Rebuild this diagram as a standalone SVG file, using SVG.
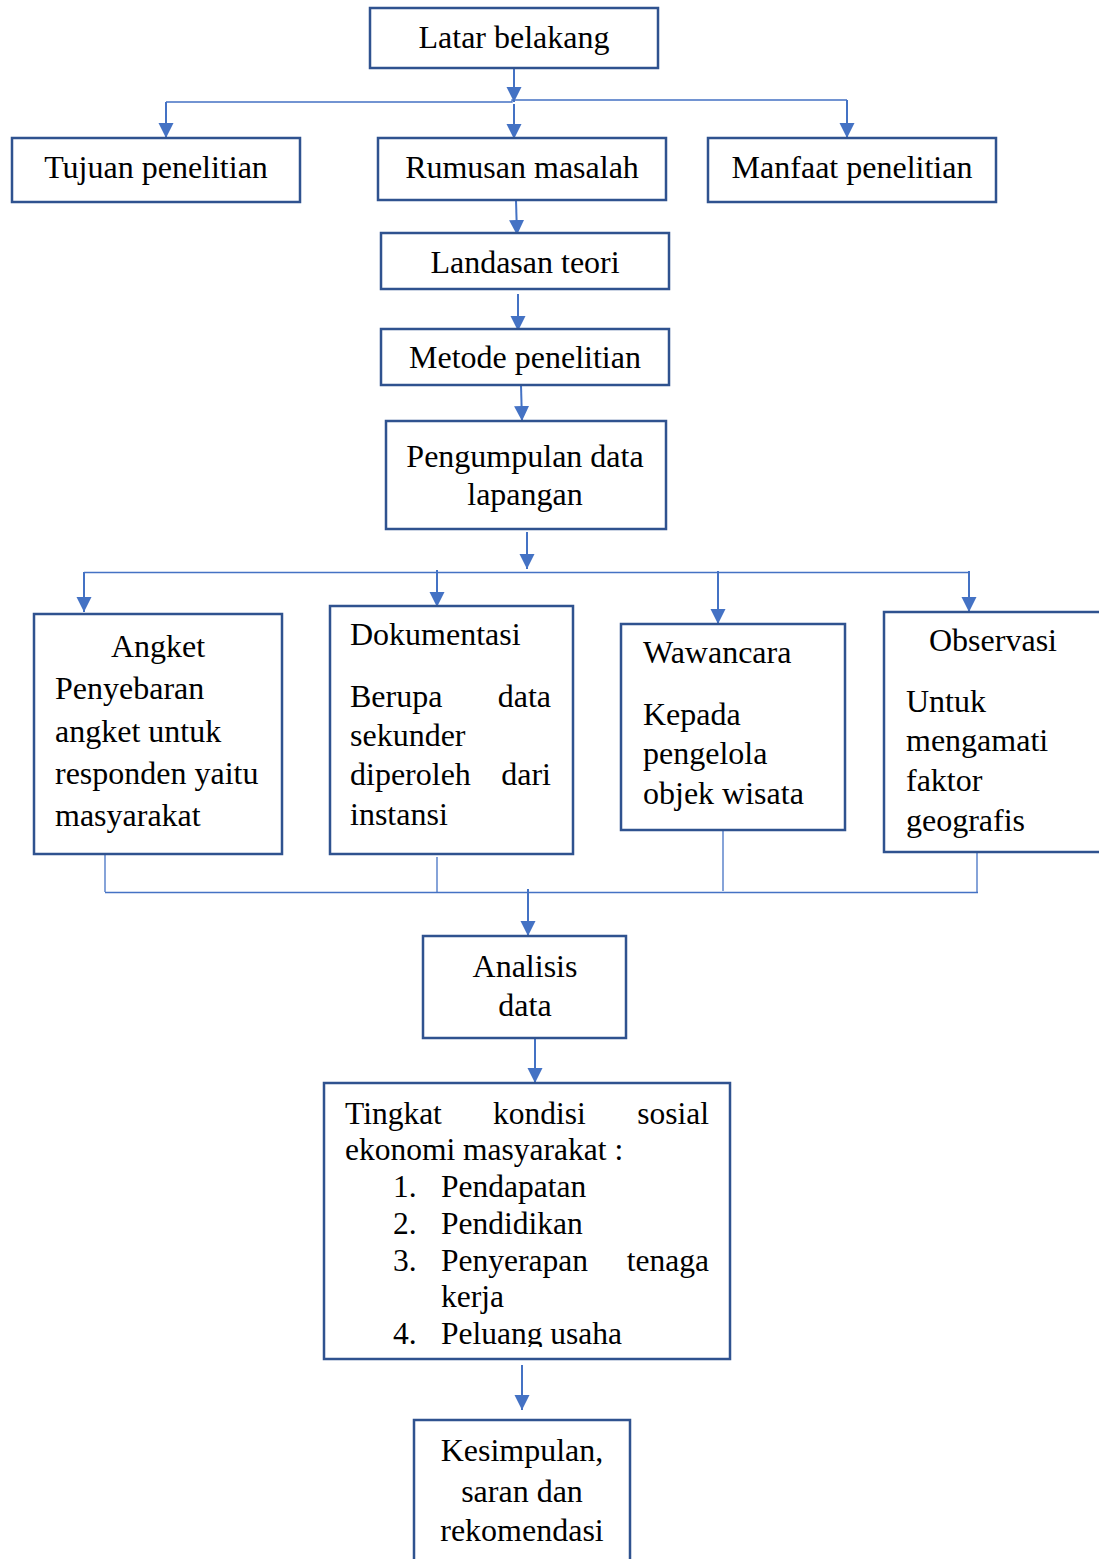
<svg xmlns="http://www.w3.org/2000/svg" width="1099" height="1559" viewBox="0 0 1099 1559">
<style>
.box{fill:#fff;stroke:#2F528F;stroke-width:2.5}
.t{font-family:"Liberation Serif","Times New Roman",serif;font-size:32px;fill:#000}
.s{font-size:31.5px}
.c{text-anchor:middle}
.e{text-anchor:end}
.ln{fill:none;stroke:#4472C4;stroke-width:2}
.thin{fill:none;stroke:#4472C4;stroke-width:1.3}
</style>
<defs>
<marker id="arr" markerUnits="userSpaceOnUse" markerWidth="16" markerHeight="16" refX="15" refY="7.5" orient="auto">
<path d="M0,0 L15,7.5 L0,15 Z" fill="#4472C4"/>
</marker>
<clipPath id="clipT"><rect x="324" y="1083" width="406" height="264"/></clipPath>
</defs>
<rect width="1099" height="1559" fill="#fff"/>

<g id="connectors">
<line class="ln" x1="514" y1="68" x2="514" y2="102" marker-end="url(#arr)"/>
<path class="thin" d="M166,102 H512 V100 H847"/>
<line class="ln" x1="166" y1="102" x2="166" y2="138" marker-end="url(#arr)"/>
<line class="ln" x1="514" y1="104" x2="514" y2="139" marker-end="url(#arr)"/>
<line class="ln" x1="847" y1="100" x2="847" y2="138" marker-end="url(#arr)"/>
<line class="ln" x1="516" y1="200" x2="517" y2="235" marker-end="url(#arr)"/>
<line class="ln" x1="518" y1="294" x2="518" y2="331" marker-end="url(#arr)"/>
<line class="ln" x1="521" y1="385" x2="522" y2="421" marker-end="url(#arr)"/>
<line class="ln" x1="527" y1="532" x2="527" y2="569" marker-end="url(#arr)"/>
<line class="thin" x1="84" y1="572.5" x2="969" y2="572.5"/>
<line class="ln" x1="84" y1="572" x2="84" y2="612" marker-end="url(#arr)"/>
<line class="ln" x1="437" y1="570" x2="437" y2="607" marker-end="url(#arr)"/>
<line class="ln" x1="718" y1="571" x2="718" y2="624" marker-end="url(#arr)"/>
<line class="ln" x1="969" y1="571" x2="969" y2="612" marker-end="url(#arr)"/>
<line class="thin" x1="105" y1="855" x2="105" y2="892"/>
<line class="thin" x1="437" y1="857" x2="437" y2="892"/>
<line class="thin" x1="723" y1="831" x2="723" y2="891"/>
<line class="thin" x1="977" y1="853" x2="977" y2="892"/>
<line class="thin" x1="105" y1="892.5" x2="978" y2="892.5"/>
<line class="ln" x1="528" y1="889" x2="528" y2="936" marker-end="url(#arr)"/>
<line class="ln" x1="535" y1="1039" x2="535" y2="1083" marker-end="url(#arr)"/>
<line class="ln" x1="522" y1="1365" x2="522" y2="1410" marker-end="url(#arr)"/>
</g>

<g id="latar">
<rect class="box" x="370" y="8" width="288" height="60"/>
<text class="t c" x="514" y="48">Latar belakang</text>
</g>
<g id="tujuan">
<rect class="box" x="12" y="138" width="288" height="64"/>
<text class="t c" x="156" y="178">Tujuan penelitian</text>
</g>
<g id="rumusan">
<rect class="box" x="378" y="138" width="288" height="62"/>
<text class="t c" x="522" y="178">Rumusan masalah</text>
</g>
<g id="manfaat">
<rect class="box" x="708" y="138" width="288" height="64"/>
<text class="t c" x="852" y="178">Manfaat penelitian</text>
</g>
<g id="landasan">
<rect class="box" x="381" y="233" width="288" height="56"/>
<text class="t c" x="525" y="273">Landasan teori</text>
</g>
<g id="metode">
<rect class="box" x="381" y="329" width="288" height="56"/>
<text class="t c" x="525" y="368">Metode penelitian</text>
</g>
<g id="pengumpulan">
<rect class="box" x="386" y="421" width="280" height="108"/>
<text class="t c" x="525" y="467">Pengumpulan data</text>
<text class="t c" x="525" y="505">lapangan</text>
</g>
<g id="angket">
<rect class="box" x="34" y="614" width="248" height="240"/>
<text class="t c" x="158" y="657">Angket</text>
<text class="t" x="55" y="699">Penyebaran</text>
<text class="t" x="55" y="742">angket untuk</text>
<text class="t" x="55" y="784">responden yaitu</text>
<text class="t" x="55" y="826">masyarakat</text>
</g>
<g id="dokumentasi">
<rect class="box" x="330" y="606" width="243" height="248"/>
<text class="t" x="350" y="645">Dokumentasi</text>
<text class="t" x="350" y="707">Berupa</text>
<text class="t e" x="551" y="707">data</text>
<text class="t" x="350" y="746">sekunder</text>
<text class="t" x="350" y="785">diperoleh</text>
<text class="t e" x="551" y="785">dari</text>
<text class="t" x="350" y="825">instansi</text>
</g>
<g id="wawancara">
<rect class="box" x="621" y="624" width="224" height="206"/>
<text class="t" x="643" y="663">Wawancara</text>
<text class="t" x="643" y="725">Kepada</text>
<text class="t" x="643" y="764">pengelola</text>
<text class="t" x="643" y="804">objek wisata</text>
</g>
<g id="observasi">
<rect class="box" x="884" y="612" width="240" height="240"/>
<text class="t" x="929" y="651">Observasi</text>
<text class="t" x="906" y="712">Untuk</text>
<text class="t" x="906" y="751">mengamati</text>
<text class="t" x="906" y="791">faktor</text>
<text class="t" x="906" y="831">geografis</text>
</g>
<g id="analisis">
<rect class="box" x="423" y="936" width="203" height="102"/>
<text class="t c" x="525" y="977">Analisis</text>
<text class="t c" x="525" y="1016">data</text>
</g>
<g id="tingkat">
<rect class="box" x="324" y="1083" width="406" height="276"/>
<text class="t s" x="345" y="1124">Tingkat</text>
<text class="t s" x="493" y="1124">kondisi</text>
<text class="t s e" x="709" y="1124">sosial</text>
<text class="t s" x="345" y="1160">ekonomi masyarakat :</text>
<text class="t s" x="393" y="1197">1.</text>
<text class="t s" x="441" y="1197">Pendapatan</text>
<text class="t s" x="393" y="1234">2.</text>
<text class="t s" x="441" y="1234">Pendidikan</text>
<text class="t s" x="393" y="1271">3.</text>
<text class="t s" x="441" y="1271">Penyerapan</text>
<text class="t s e" x="709" y="1271">tenaga</text>
<text class="t s" x="441" y="1307">kerja</text>
<g clip-path="url(#clipT)">
<text class="t s" x="393" y="1344">4.</text>
<text class="t s" x="441" y="1344">Peluang usaha</text>
</g>
</g>
<g id="kesimpulan">
<rect class="box" x="414" y="1420" width="216" height="160"/>
<text class="t c" x="522" y="1461">Kesimpulan,</text>
<text class="t c" x="522" y="1502">saran dan</text>
<text class="t c" x="522" y="1541">rekomendasi</text>
</g>
</svg>
